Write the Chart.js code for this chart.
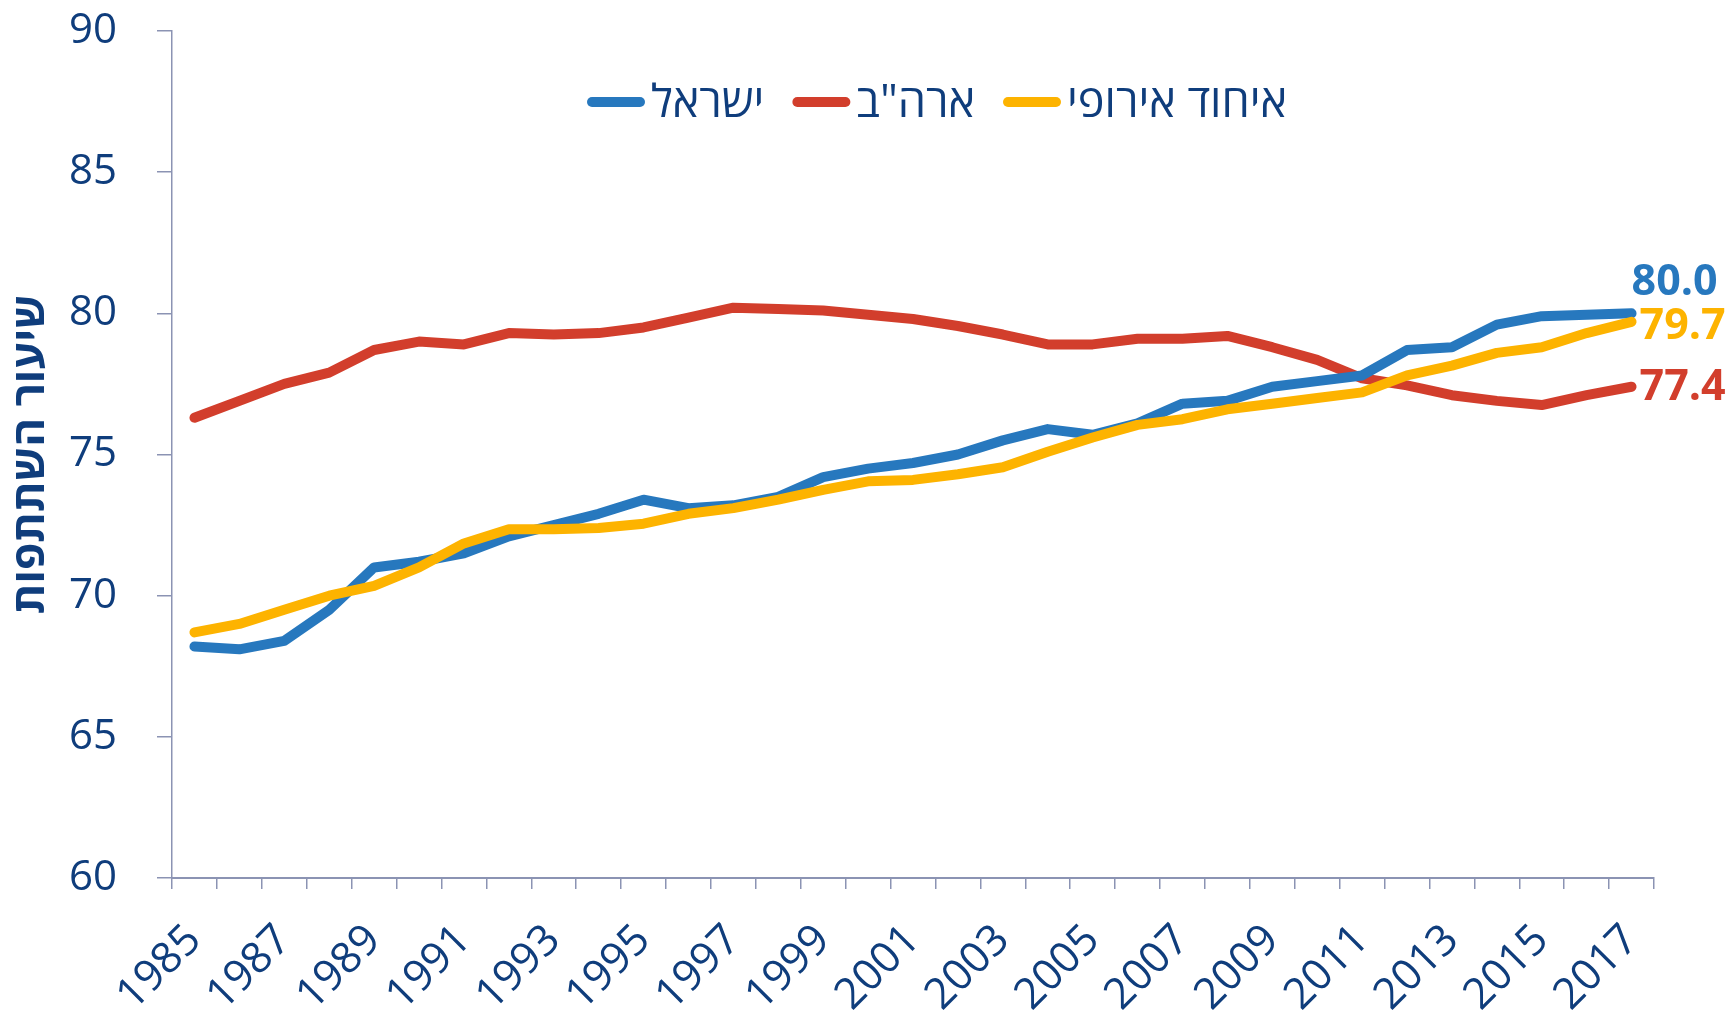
<!DOCTYPE html>
<html lang="he">
<head>
<meta charset="utf-8">
<script src="https://cdn.jsdelivr.net/npm/chart.js@4"></script>
<style>
html, body { margin: 0; padding: 0; background: #fff; }
#wrap { width: 1729px; height: 1015px; position: relative; }
</style>
</head>
<body>
<div id="wrap"><canvas id="myChart"></canvas></div>
<script>
var years = ['1985', '1986', '1987', '1988', '1989', '1990', '1991', '1992', '1993', '1994', '1995',
             '1996', '1997', '1998', '1999', '2000', '2001', '2002', '2003', '2004', '2005', '2006',
             '2007', '2008', '2009', '2010', '2011', '2012', '2013', '2014', '2015', '2016', '2017'];

// participation rate, %
var israel = [68.2, 68.1, 68.4, 69.5, 71.0, 71.2, 71.5, 72.1, 72.5, 72.9, 73.4,
              73.1, 73.2, 73.5, 74.2, 74.5, 74.7, 75.0, 75.5, 75.9, 75.7, 76.1,
              76.8, 76.9, 77.4, 77.6, 77.8, 78.7, 78.8, 79.6, 79.9, 79.95, 80.0];
var usa = [76.3, 76.9, 77.5, 77.9, 78.7, 79.0, 78.9, 79.3, 79.25, 79.3, 79.5,
           79.85, 80.2, 80.15, 80.1, 79.95, 79.8, 79.55, 79.25, 78.9, 78.9, 79.1,
           79.1, 79.2, 78.8, 78.35, 77.7, 77.45, 77.1, 76.9, 76.75, 77.1, 77.4];
var eu = [68.7, 69.0, 69.5, 70.0, 70.35, 71.0, 71.85, 72.35, 72.35, 72.4, 72.55,
          72.9, 73.1, 73.4, 73.75, 74.05, 74.1, 74.3, 74.55, 75.1, 75.6, 76.05,
          76.25, 76.6, 76.8, 77.0, 77.2, 77.8, 78.15, 78.6, 78.8, 79.3, 79.7];

var seriesNames = ['ישראל', 'ארה"ב', 'איחוד אירופי'];
var seriesColors = ['#2778be', '#d23e2c', '#fdb300'];
var yTitle = 'שיעור השתתפות';

var navy = '#0f3d7c';
var axisColor = '#8b93b3';
var fontFamily = '"Open Sans", "Liberation Sans", "DejaVu Sans", sans-serif';

// legend drawn inside the plot, line sample left of the text
var topLegend = {
    id: 'topLegend',
    afterDraw: function(chart) {
        var ctx = chart.ctx;
        var lineLen = 58, gap = 6, itemGap = 28;
        ctx.save();
        ctx.font = '45px ' + fontFamily;
        ctx.textBaseline = 'middle';
        ctx.textAlign = 'left';
        var widths = chart.data.datasets.map(function(ds) { return ctx.measureText(ds.label).width; });
        var total = 0;
        widths.forEach(function(w) { total += lineLen + gap + w; });
        total += itemGap * (widths.length - 1);
        var x = 937 - total / 2;
        var y = 102;
        chart.data.datasets.forEach(function(ds, i) {
            ctx.strokeStyle = ds.borderColor;
            ctx.lineWidth = 10;
            ctx.lineCap = 'round';
            ctx.beginPath();
            ctx.moveTo(x + 5, y);
            ctx.lineTo(x + lineLen - 5, y);
            ctx.stroke();
            ctx.fillStyle = navy;
            ctx.fillText(ds.label, x + lineLen + gap, y + 2);
            x += lineLen + gap + widths[i] + itemGap;
        });
        ctx.restore();
    }
};

// last value written at the end of each line
var labelOffsets = [[0, -31], [8, 1], [8, 5]];
var endLabels = {
    id: 'endLabels',
    afterDatasetsDraw: function(chart) {
        var ctx = chart.ctx;
        ctx.save();
        ctx.font = 'bold 43px ' + fontFamily;
        ctx.textBaseline = 'middle';
        ctx.textAlign = 'left';
        chart.data.datasets.forEach(function(ds, i) {
            var meta = chart.getDatasetMeta(i);
            var pt = meta.data[meta.data.length - 1];
            ctx.fillStyle = ds.borderColor;
            ctx.fillText(ds.data[ds.data.length - 1].toFixed(1), pt.x + labelOffsets[i][0], pt.y + labelOffsets[i][1]);
        });
        ctx.restore();
    }
};

function makeSet(i, data, order) {
    return {
        label: seriesNames[i],
        data: data,
        borderColor: seriesColors[i],
        backgroundColor: seriesColors[i],
        borderWidth: 10,
        borderCapStyle: 'round',
        borderJoinStyle: 'round',
        pointRadius: 0,
        pointHoverRadius: 0,
        tension: 0,
        order: order
    };
}

var ctx = document.getElementById('myChart').getContext('2d');
var myChart = new Chart(ctx, {
    type: 'line',
    data: {
        labels: years,
        datasets: [makeSet(0, israel, 1), makeSet(1, usa, 2), makeSet(2, eu, 0)]
    },
    options: {
        responsive: true,
        maintainAspectRatio: false,
        animation: false,
        layout: { padding: { top: 31, right: 75, bottom: 0, left: 0 } },
        plugins: {
            legend: { display: false },
            tooltip: { enabled: false }
        },
        scales: {
            x: {
                offset: true,
                afterFit: function(scale) {
                    scale.height = 137;
                    scale.paddingLeft = 0;
                    scale.paddingRight = 0;
                },
                border: { color: axisColor, width: 2 },
                grid: { drawOnChartArea: false, drawTicks: true, tickLength: 11, color: axisColor, lineWidth: 1.5, offset: true },
                ticks: {
                    autoSkip: false,
                    maxRotation: 45,
                    minRotation: 45,
                    padding: 26,
                    color: navy,
                    font: { family: fontFamily, size: 43 },
                    callback: function(value, index) {
                        return index % 2 === 0 ? years[index] : '';
                    }
                }
            },
            y: {
                min: 60,
                max: 90,
                afterFit: function(scale) {
                    scale.width = 172;
                    scale.paddingTop = 0;
                    scale.paddingBottom = 0;
                },
                border: { color: axisColor, width: 1.5 },
                grid: { drawOnChartArea: false, drawTicks: true, tickLength: 15, color: axisColor, lineWidth: 1.5 },
                ticks: {
                    stepSize: 5,
                    padding: 40,
                    color: navy,
                    font: { family: fontFamily, size: 42 }
                },
                title: {
                    display: true,
                    text: yTitle,
                    color: navy,
                    padding: { top: 5, bottom: 0 },
                    font: { family: fontFamily, size: 44, weight: 'bold' }
                }
            }
        }
    },
    plugins: [topLegend, endLabels]
});
</script>
</body>
</html>
